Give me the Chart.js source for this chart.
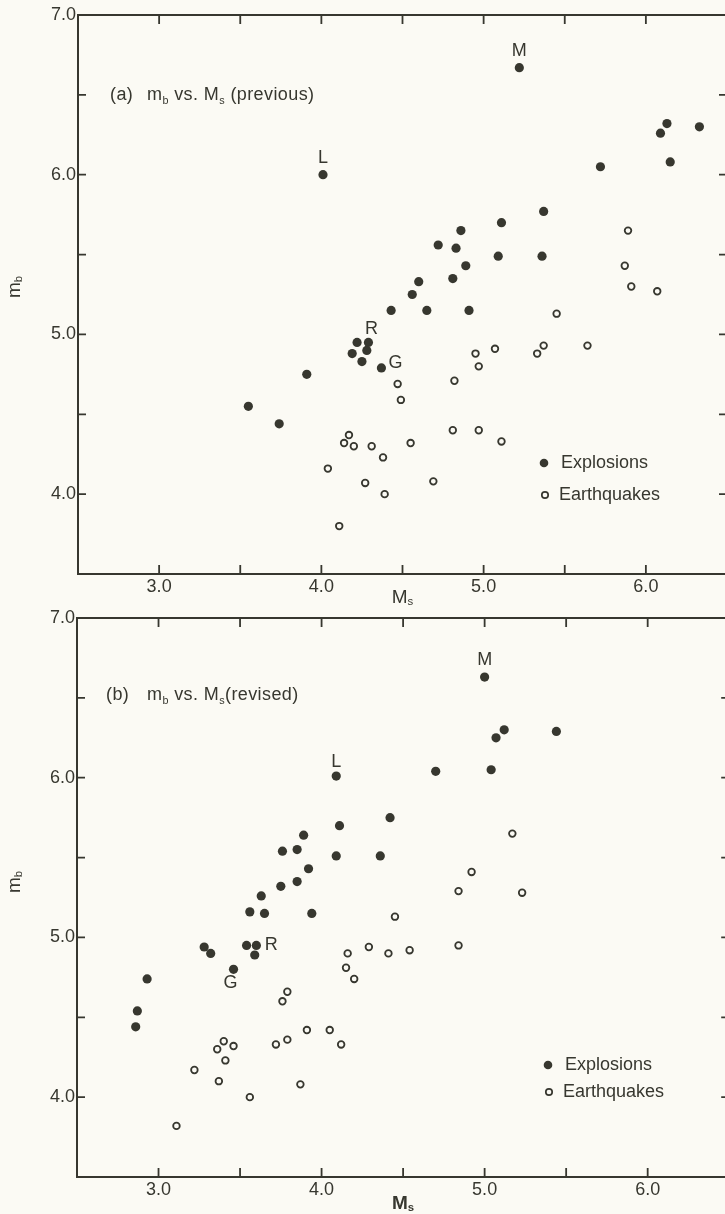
<!DOCTYPE html>
<html>
<head>
<meta charset="utf-8">
<title>mb vs Ms</title>
<script src="https://cdn.jsdelivr.net/npm/chart.js@4.4.1/dist/chart.umd.min.js"></script>
<style>
  html, body { margin: 0; padding: 0; background: #fbfaf4; overflow: hidden; }
  canvas { display: block; }
</style>
</head>
<body>
<canvas id="chartA" width="735" height="608"></canvas>
<canvas id="chartB" width="735" height="606"></canvas>
<script>
const INK = "#37372f";
const PAPER = "#fbfaf4";
const FONT = '"Liberation Sans", Arial, sans-serif';

// axes
const xRange = [2.5, 6.5];
const yRange = [3.5, 7.0];
const xTickLabels = [3.0, 4.0, 5.0, 6.0];
const yTickLabels = [4.0, 5.0, 6.0, 7.0];
const xTickMarks = [3.0, 3.5, 4.0, 4.5, 5.0, 5.5, 6.0];
const yTickMarks = [4.0, 4.5, 5.0, 5.5, 6.0, 6.5];
const seriesNames = ["Explosions", "Earthquakes"];

// (a) previous
const prevExpMs = [4.01, 5.22, 6.13, 6.09, 6.33, 6.15, 5.72, 5.37, 5.11, 4.86, 4.72, 4.83, 5.09, 5.36, 4.89,
                   4.81, 4.60, 4.56, 4.43, 4.65, 4.91, 4.22, 4.29, 4.28, 4.19, 4.25, 4.37, 3.91, 3.55, 3.74];
const prevExpMb = [6.00, 6.67, 6.32, 6.26, 6.30, 6.08, 6.05, 5.77, 5.70, 5.65, 5.56, 5.54, 5.49, 5.49, 5.43,
                   5.35, 5.33, 5.25, 5.15, 5.15, 5.15, 4.95, 4.95, 4.90, 4.88, 4.83, 4.79, 4.75, 4.55, 4.44];
const prevEqMs = [5.89, 5.87, 5.91, 6.07, 5.45, 4.95, 5.07, 5.33, 5.37, 5.64, 4.97, 4.82, 4.81, 4.97,
                  5.11, 4.47, 4.49, 4.17, 4.14, 4.20, 4.31, 4.55, 4.38, 4.04, 4.27, 4.39, 4.69, 4.11];
const prevEqMb = [5.65, 5.43, 5.30, 5.27, 5.13, 4.88, 4.91, 4.88, 4.93, 4.93, 4.80, 4.71, 4.40, 4.40,
                  4.33, 4.69, 4.59, 4.37, 4.32, 4.30, 4.30, 4.32, 4.23, 4.16, 4.07, 4.00, 4.08, 3.80];
const prevLetters = ["L", "M", "R", "G"];
const prevLetterIdx = [0, 1, 22, 26];

// (b) revised
const revExpMs = [5.00, 5.12, 5.07, 5.44, 4.70, 5.04, 4.42, 4.36, 4.09, 4.11, 3.89, 3.76, 3.85, 4.09, 3.92,
                  3.85, 3.75, 3.63, 3.56, 3.65, 3.94, 3.28, 3.32, 3.54, 3.60, 3.59, 3.46, 2.93, 2.87, 2.86];
const revExpMb = [6.63, 6.30, 6.25, 6.29, 6.04, 6.05, 5.75, 5.51, 6.01, 5.70, 5.64, 5.54, 5.55, 5.51, 5.43,
                  5.35, 5.32, 5.26, 5.16, 5.15, 5.15, 4.94, 4.90, 4.95, 4.95, 4.89, 4.80, 4.74, 4.54, 4.44];
const revEqMs = [5.17, 4.92, 4.84, 5.23, 4.45, 4.29, 4.41, 4.54, 4.84, 4.16, 4.15, 4.20, 3.79, 3.76,
                 3.91, 4.05, 4.12, 3.79, 3.72, 3.40, 3.36, 3.46, 3.41, 3.22, 3.37, 3.87, 3.56, 3.11];
const revEqMb = [5.65, 5.41, 5.29, 5.28, 5.13, 4.94, 4.90, 4.92, 4.95, 4.90, 4.81, 4.74, 4.66, 4.60,
                 4.42, 4.42, 4.33, 4.36, 4.33, 4.35, 4.30, 4.32, 4.23, 4.17, 4.10, 4.08, 4.00, 3.82];
const revLetters = ["M", "L", "R", "G"];
const revLetterIdx = [0, 8, 24, 26];

function toPoints(xs, ys) {
  return xs.map((v, i) => ({ x: v, y: ys[i] }));
}

// draw a row of text pieces, some as subscripts
function runsWidth(ctx, runs, size, weight) {
  let w = 0;
  runs.forEach(([t, sub]) => {
    ctx.font = weight + " " + (sub ? size * 0.6 : size) + "px " + FONT;
    w += ctx.measureText(t).width;
  });
  return w;
}
function drawRuns(ctx, runs, x, y, size, weight, drop) {
  runs.forEach(([t, sub]) => {
    ctx.font = weight + " " + (sub ? size * 0.6 : size) + "px " + FONT;
    ctx.fillText(t, x, y + (sub ? size * drop : 0));
    x += ctx.measureText(t).width;
  });
  return x;
}

const paperFrame = {
  id: "paperFrame",
  beforeDraw(chart) {
    const ctx = chart.ctx;
    ctx.save();
    ctx.fillStyle = PAPER;
    ctx.fillRect(0, 0, chart.width, chart.height);
    ctx.restore();
  },
  afterDraw(chart, args, o) {
    const ctx = chart.ctx;
    const a = chart.chartArea;
    const x = chart.scales.x, y = chart.scales.y;
    ctx.save();
    ctx.strokeStyle = INK;
    ctx.fillStyle = INK;

    // frame + inward ticks
    ctx.lineWidth = 2;
    ctx.strokeRect(a.left, a.top, a.right - a.left, a.bottom - a.top);
    ctx.lineWidth = 1.8;
    ctx.beginPath();
    xTickMarks.forEach(v => {
      const px = x.getPixelForValue(v);
      ctx.moveTo(px, a.top); ctx.lineTo(px, a.top + 9);
      ctx.moveTo(px, a.bottom); ctx.lineTo(px, a.bottom - 9);
    });
    yTickMarks.forEach(v => {
      const py = y.getPixelForValue(v);
      ctx.moveTo(a.left, py); ctx.lineTo(a.left + 8, py);
      ctx.moveTo(a.right, py); ctx.lineTo(a.right - 8, py);
    });
    ctx.stroke();

    // tick labels
    ctx.font = "18px " + FONT;
    ctx.textBaseline = "middle";
    ctx.textAlign = "right";
    yTickLabels.forEach(v => ctx.fillText(v.toFixed(1), a.left - 2, y.getPixelForValue(v)));
    ctx.textAlign = "center";
    xTickLabels.forEach(v => ctx.fillText(v.toFixed(1), x.getPixelForValue(v), a.bottom + 13));

    // axis titles
    ctx.textAlign = "left";
    ctx.textBaseline = "alphabetic";
    const xt = [["M", false], ["s", true]];
    const xw = runsWidth(ctx, xt, 19, o.xTitleWeight);
    drawRuns(ctx, xt, (a.left + a.right) / 2 - xw / 2, a.bottom + o.xTitleDy, 19, o.xTitleWeight, 0.08);

    const yt = [["m", false], ["b", true]];
    ctx.save();
    ctx.translate(a.left + o.yTitleDx, a.top + o.yTitleDy);
    ctx.rotate(-Math.PI / 2);
    const yw = runsWidth(ctx, yt, 19, "normal");
    drawRuns(ctx, yt, -yw / 2, 5, 19, "normal", 0.12);
    ctx.restore();

    // panel caption
    ctx.letterSpacing = "0.4px";
    const cy = a.top + o.captionDy;
    drawRuns(ctx, [[o.tag, false]], a.left + o.captionDx, cy, 18, "normal", 0);
    drawRuns(ctx, o.captionRuns, a.left + o.captionDx + o.captionGap, cy, 18, "normal", 0.2);
    ctx.letterSpacing = "0px";

    // letters on marked events
    const meta = chart.getDatasetMeta(0);
    ctx.font = "18px " + FONT;
    ctx.textAlign = "center";
    ctx.textBaseline = "middle";
    o.letters.forEach((t, i) => {
      const el = meta.data[o.letterIdx[i]];
      const off = o.letterOff[i];
      ctx.fillText(t, el.x + off[0], el.y + off[1]);
    });

    // legend
    const lx = a.left + o.legendDx;
    const ly = a.bottom - o.legendDy;
    ctx.beginPath();
    ctx.arc(lx, ly, 4.3, 0, Math.PI * 2);
    ctx.fill();
    ctx.lineWidth = 1.7;
    ctx.beginPath();
    ctx.arc(lx + 1, ly + o.legendGap, 3.2, 0, Math.PI * 2);
    ctx.stroke();
    ctx.font = "18px " + FONT;
    ctx.textAlign = "left";
    ctx.fillText(seriesNames[0], lx + 17, ly);
    ctx.fillText(seriesNames[1], lx + 15, ly + o.legendGap);

    ctx.restore();
  }
};

function makeChart(id, expPts, eqPts, padding, frameOpts) {
  return new Chart(document.getElementById(id), {
    type: "scatter",
    data: {
      datasets: [
        {
          label: seriesNames[0],
          data: expPts,
          pointRadius: 4.6,
          pointBackgroundColor: INK,
          pointBorderWidth: 0,
          backgroundColor: INK,
          borderColor: INK
        },
        {
          label: seriesNames[1],
          data: eqPts,
          pointRadius: 3.3,
          pointBackgroundColor: "rgba(0,0,0,0)",
          pointBorderColor: INK,
          pointBorderWidth: 1.8,
          backgroundColor: "rgba(0,0,0,0)",
          borderColor: INK
        }
      ]
    },
    options: {
      responsive: false,
      animation: false,
      events: [],
      layout: { padding: padding },
      scales: {
        x: { type: "linear", min: xRange[0], max: xRange[1], display: false },
        y: { type: "linear", min: yRange[0], max: yRange[1], display: false }
      },
      plugins: {
        legend: { display: false },
        tooltip: { enabled: false },
        paperFrame: frameOpts
      }
    },
    plugins: [paperFrame]
  });
}

makeChart("chartA",
  toPoints(prevExpMs, prevExpMb),
  toPoints(prevEqMs, prevEqMb),
  { left: 78, right: 8, top: 15, bottom: 34 },
  {
    tag: "(a)",
    captionRuns: [["m", false], ["b", true], [" vs. M", false], ["s", true], [" (previous)", false]],
    captionDx: 32, captionGap: 37, captionDy: 85,
    xTitleDy: 29, xTitleWeight: "normal",
    yTitleDx: -63, yTitleDy: 272,
    letters: prevLetters, letterIdx: prevLetterIdx,
    letterOff: [[0, -17], [0, -17], [3, -13], [14, -5]],
    legendDx: 466, legendDy: 111, legendGap: 32
  });

makeChart("chartB",
  toPoints(revExpMs, revExpMb),
  toPoints(revEqMs, revEqMb),
  { left: 77, right: 4, top: 10, bottom: 37 },
  {
    tag: "(b)",
    captionRuns: [["m", false], ["b", true], [" vs. M", false], ["s", true], ["(revised)", false]],
    captionDx: 29, captionGap: 41, captionDy: 82,
    xTitleDy: 32, xTitleWeight: "bold",
    yTitleDx: -62, yTitleDy: 264,
    letters: revLetters, letterIdx: revLetterIdx,
    letterOff: [[0, -17], [0, -14], [15, 0], [-3, 14]],
    legendDx: 471, legendDy: 112, legendGap: 27
  });
</script>
</body>
</html>
